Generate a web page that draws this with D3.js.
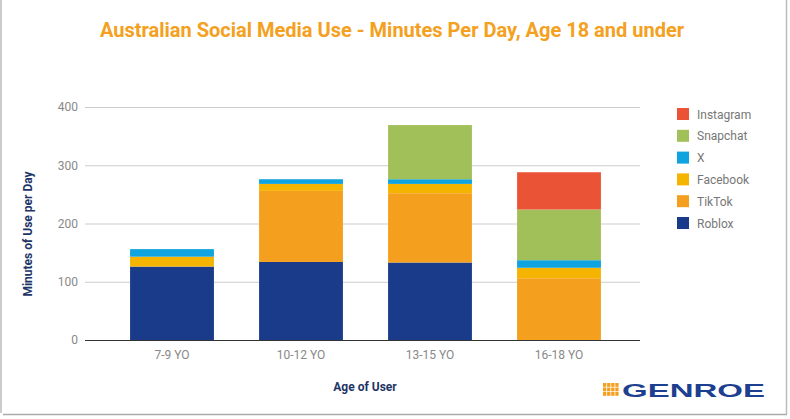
<!DOCTYPE html>
<html>
<head>
<meta charset="utf-8">
<script src="https://cdn.jsdelivr.net/npm/d3@7"></script>
<style>
  body { margin: 0; background: #fff; }
  text { font-family: Roboto, "Noto Sans", sans-serif; }
</style>
</head>
<body>
<div class="container"></div>
<script>
// data
var ages = ['7-9 YO', '10-12 YO', '13-15 YO', '16-18 YO'];
var platforms = ['Roblox', 'TikTok', 'Facebook', 'X', 'Snapchat', 'Instagram'];
var roblox    = [126, 134, 133, 0];
var tiktok    = [0, 122, 119, 106];
var facebook  = [17, 12, 16, 18];
var x_        = [13, 8, 8, 13];
var snapchat  = [0, 0, 93, 87];
var instagram = [0, 0, 0, 64];
var yTicks = [0, 100, 200, 300, 400];
var colors = ['#1a3a8a', '#f4a01e', '#f5b400', '#0fa3df', '#a2c05a', '#eb5337'];

const WIDTH = 790;
const HEIGHT = 419;

var rows = ages.map(function(a, i){
  return {age: a, Roblox: roblox[i], TikTok: tiktok[i], Facebook: facebook[i],
          X: x_[i], Snapchat: snapchat[i], Instagram: instagram[i]};
});

var svg = d3.select('.container').append('svg')
  .attr('width', WIDTH)
  .attr('height', HEIGHT);

// frame
svg.append('line').attr('x1', 1).attr('x2', 1).attr('y1', 0).attr('y2', 413)
  .attr('stroke', '#bbb').attr('stroke-width', 1.5);
svg.append('line').attr('x1', 786.5).attr('x2', 786.5).attr('y1', 0).attr('y2', 414)
  .attr('stroke', '#bbb').attr('stroke-width', 1.5);
svg.append('line').attr('x1', 3).attr('x2', 787).attr('y1', 414.5).attr('y2', 414.5)
  .attr('stroke', '#aaa').attr('stroke-width', 1.5);

svg.append('text')
  .attr('x', 392).attr('y', 37)
  .attr('text-anchor', 'middle')
  .attr('font-size', 20).attr('font-weight', 'bold')
  .attr('fill', '#f4a020')
  .text('Australian Social Media Use - Minutes Per Day, Age 18 and under');

var xScale = d3.scaleBand()
  .domain(ages)
  .range([107.5, 623.5])
  .paddingInner(0.35)
  .paddingOuter(0.175);

var yScale = d3.scaleLinear()
  .domain([0, 400])
  .range([340, 107]);

// gridlines
svg.append('g').selectAll('line')
  .data(yTicks.slice(1))
  .join('line')
  .attr('x1', 85).attr('x2', 640)
  .attr('y1', function(d){ return yScale(d) + 0.5; })
  .attr('y2', function(d){ return yScale(d) + 0.5; })
  .attr('stroke', '#ccc');

var yAxis = d3.axisLeft(yScale).tickValues(yTicks).tickSize(0).tickPadding(7);
var gy = svg.append('g').attr('transform', 'translate(85,0)').call(yAxis);
gy.select('.domain').remove();
gy.selectAll('text').attr('font-size', 12).attr('fill', '#888')
  .style('font-family', 'Roboto, sans-serif');

var stack = d3.stack().keys(platforms);
var series = stack(rows);

svg.append('g').selectAll('g')
  .data(series)
  .join('g')
  .attr('fill', function(d, i){ return colors[i]; })
  .selectAll('rect')
  .data(function(d){ return d; })
  .join('rect')
  .attr('x', function(d){ return xScale(d.data.age); })
  .attr('width', xScale.bandwidth())
  .attr('y', function(d){ return yScale(d[1]); })
  .attr('height', function(d){ return yScale(d[0]) - yScale(d[1]); });

// baseline
svg.append('line').attr('x1', 85).attr('x2', 640)
  .attr('y1', 340.5).attr('y2', 340.5)
  .attr('stroke', '#333');

var xAxis = d3.axisBottom(xScale).tickSize(0).tickPadding(10);
var gx = svg.append('g').attr('transform', 'translate(0,340)').call(xAxis);
gx.select('.domain').remove();
gx.selectAll('text').attr('font-size', 12).attr('fill', '#888')
  .style('font-family', 'Roboto, sans-serif');

svg.append('text')
  .attr('x', 365).attr('y', 391)
  .attr('text-anchor', 'middle')
  .attr('font-size', 12).attr('font-weight', 'bold')
  .attr('fill', '#1d3566')
  .text('Age of User');

svg.append('text')
  .attr('transform', 'translate(32,234) rotate(-90)')
  .attr('text-anchor', 'middle')
  .attr('font-size', 12).attr('font-weight', 'bold')
  .attr('fill', '#1d3566')
  .text('Minutes of Use per Day');

// legend, top item is last series
var legend = svg.append('g').selectAll('g')
  .data(platforms.slice().reverse())
  .join('g')
  .attr('transform', function(d, i){ return 'translate(677,' + (108 + i * 21.8) + ')'; });
legend.append('rect')
  .attr('width', 12).attr('height', 12)
  .attr('fill', function(d){ return colors[platforms.indexOf(d)]; });
legend.append('text')
  .attr('x', 20).attr('y', 10.5)
  .attr('font-size', 12).attr('fill', '#777')
  .text(function(d){ return d; });

// logo
var logo = svg.append('g').attr('transform', 'translate(603,383)');
logo.selectAll('rect')
  .data(d3.range(12))
  .join('rect')
  .attr('x', function(d){ return (d % 4) * 4.1; })
  .attr('y', function(d){ return Math.floor(d / 4) * 4.5; })
  .attr('width', 3.3).attr('height', 3.8)
  .attr('fill', '#f4a01e');
logo.append('text')
  .attr('x', 19).attr('y', 13.5)
  .attr('font-size', 18.5).attr('font-weight', 'bold')
  .attr('textLength', 143)
  .attr('lengthAdjust', 'spacingAndGlyphs')
  .attr('fill', '#1d3f8f')
  .style('font-family', '"Liberation Sans", Arial, sans-serif')
  .text('GENROE');
</script>
</body>
</html>
